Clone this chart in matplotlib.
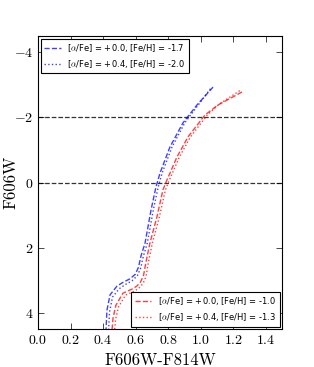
import matplotlib
matplotlib.use("Agg")
import matplotlib.pyplot as plt
import numpy as np

plt.rcParams['font.family'] = 'serif'
plt.rcParams['font.serif'] = ['cmr10', 'DejaVu Serif']
plt.rcParams['mathtext.fontset'] = 'cm'
plt.rcParams['axes.formatter.use_mathtext'] = True
plt.rcParams['axes.unicode_minus'] = True

# isochrones: colour F606W-F814W vs magnitude F606W
mag_b1 = [-2.93, -2.38, -1.83, -1.09, -0.29, 0.14, 0.84, 1.86, 2.26, 2.60, 2.82, 2.96, 3.06, 3.18, 3.45, 3.92, 4.53]
col_b1 = [1.076, 0.977, 0.891, 0.811, 0.750, 0.725, 0.695, 0.658, 0.633, 0.618, 0.598, 0.565, 0.525, 0.486, 0.443, 0.424, 0.418]
mag_b2 = [-2.88, -2.38, -1.83, -1.09, -0.29, 0.14, 0.84, 1.86, 2.26, 2.62, 2.86, 3.02, 3.13, 3.26, 3.52, 3.97, 4.53]
col_b2 = [1.060, 0.985, 0.902, 0.824, 0.763, 0.739, 0.709, 0.672, 0.648, 0.632, 0.611, 0.578, 0.538, 0.500, 0.458, 0.440, 0.434]
mag_r1 = [-2.78, -2.38, -2.07, -1.40, -0.78, -0.08, 0.23, 1.06, 1.86, 2.44, 2.85, 3.06, 3.18, 3.27, 3.40, 3.77, 4.17, 4.53]
col_r1 = [1.254, 1.106, 1.026, 0.922, 0.854, 0.793, 0.768, 0.731, 0.688, 0.664, 0.649, 0.630, 0.608, 0.580, 0.522, 0.479, 0.461, 0.455]
mag_r2 = [-2.82, -2.40, -2.07, -1.40, -0.78, -0.08, 0.23, 1.06, 1.86, 2.44, 2.89, 3.10, 3.23, 3.33, 3.46, 3.82, 4.20, 4.53]
col_r2 = [1.240, 1.112, 1.040, 0.937, 0.869, 0.808, 0.783, 0.746, 0.703, 0.679, 0.664, 0.646, 0.623, 0.596, 0.538, 0.495, 0.477, 0.471]

lab_b1 = r'[$\alpha$/Fe] = +0.0, [Fe/H] = -1.7'
lab_b2 = r'[$\alpha$/Fe] = +0.4, [Fe/H] = -2.0'
lab_r1 = r'[$\alpha$/Fe] = +0.0, [Fe/H] = -1.0'
lab_r2 = r'[$\alpha$/Fe] = +0.4, [Fe/H] = -1.3'

hlines = [-2, 0]

fig = plt.figure(figsize=(3.14, 3.67), dpi=100)
ax = fig.add_axes([38/314, 38/367, 244/314, 293/367])

for h in hlines:
    ax.axhline(h, color='k', ls='--', lw=0.9, alpha=0.8)

b1, = ax.plot(col_b1, mag_b1, color='b', ls='--', lw=1, alpha=0.75)
b2, = ax.plot(col_b2, mag_b2, color='b', ls=':', lw=1, alpha=0.75)
r1, = ax.plot(col_r1, mag_r1, color='r', ls='--', lw=1, alpha=0.75)
r2, = ax.plot(col_r2, mag_r2, color='r', ls=':', lw=1, alpha=0.75)

ax.set_xlim(0, 1.5)
ax.set_ylim(4.5, -4.5)
ax.set_xticks(np.arange(0, 1.41, 0.2))
ax.set_yticks([-4, -2, 0, 2, 4])
ax.tick_params(direction='in', top=True, right=True, labelsize=10, length=4, width=0.5)
ax.set_xlabel('F606W-F814W', fontsize=12)
ax.set_ylabel('F606W', fontsize=12)
ax.yaxis.set_label_coords(-0.08, 0.5)

leg1 = ax.legend([b1, b2], [lab_b1, lab_b2], loc='upper left', fancybox=False,
                 prop={'family': 'DejaVu Sans', 'size': 6}, handlelength=2,
                 borderaxespad=0.3, framealpha=1, edgecolor='k')
leg1.get_frame().set_linewidth(0.8)
ax.add_artist(leg1)
leg2 = ax.legend([r1, r2], [lab_r1, lab_r2], loc='lower right', fancybox=False,
                 prop={'family': 'DejaVu Sans', 'size': 6}, handlelength=2,
                 borderaxespad=0.3, framealpha=1, edgecolor='k')
leg2.get_frame().set_linewidth(0.8)

fig.savefig('out.png', dpi=100)
